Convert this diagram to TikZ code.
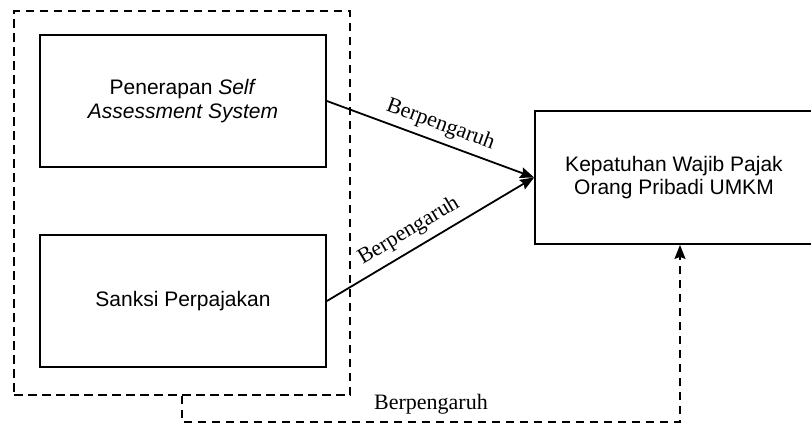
\documentclass[tikz,border=0pt]{standalone}
\usepackage{fontspec}
\setmainfont{Liberation Serif}
\setsansfont{Liberation Sans}
\usetikzlibrary{arrows.meta, positioning, calc}
\tikzset{
  every picture/.style={line width=1.8pt},
  box/.style={draw=black, align=center, inner sep=6pt, font=\sffamily\fontsize{21}{23.5}\selectfont},
  arrow/.style={-{Stealth[length=14pt, width=11pt, inset=2pt]}, draw=black, line width=1.8pt},
  lbl/.style={font=\fontsize{22}{24}\selectfont, inner sep=1pt},
  grpline/.style={draw=black, dash pattern=on 8.5pt off 5.5pt},
}

\begin{document}
\begin{tikzpicture}[x=1pt, y=-1pt,
  var/.style={box, minimum width=286pt, minimum height=132pt},
  goal/.style={box, minimum width=278pt, minimum height=133pt}]
  \useasboundingbox (0,0) rectangle (811,424);
  % independent variables
  \node[var] (sas) at (183,101) {Penerapan \textit{Self}\\\textit{Assessment System}};
  \node[var] (sanksi) at (183,301) {Sanksi Perpajakan};
  \node[grpline, minimum width=336pt, minimum height=384pt] (grp) at (182,203) {};
  % dependent variable
  \node[goal] (kep) at (674,177.5) {Kepatuhan Wajib Pajak\\Orang Pribadi UMKM};
  % partial effects
  \draw[arrow] (sas.east) -- node[lbl, sloped, above=5pt, pos=0.52] (l1) {Berpengaruh} (kep.west);
  \draw[arrow] (sanksi.east) -- node[lbl, sloped, above=6pt, pos=0.44] (l2) {Berpengaruh} (kep.west);
  % simultaneous effect
  \coordinate (fb) at (680,422);
  \draw[arrow, grpline] (grp.south) |- (fb) -- (fb |- kep.south);
  \node[lbl] (l3) at (431,404) {Berpengaruh};
\end{tikzpicture}
\end{document}
